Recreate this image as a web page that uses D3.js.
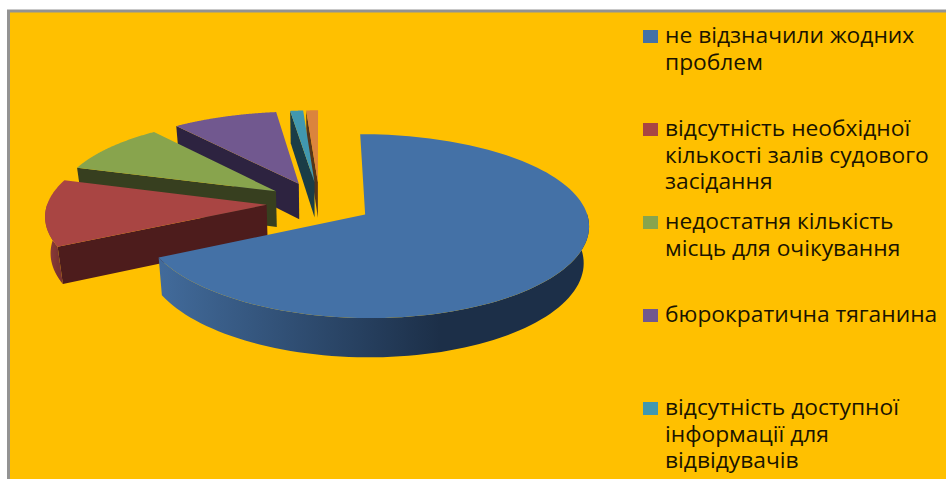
<!DOCTYPE html>
<html>
<head>
<meta charset="utf-8">
<style>
  html, body { margin: 0; padding: 0; background: #fff; overflow: hidden; }
  text { font-family: "Open Sans", sans-serif; }
</style>
<script src="https://cdnjs.cloudflare.com/ajax/libs/d3/7.8.5/d3.min.js"></script>
</head>
<body>
<div id="chart"></div>
<script>
// share of answers (the sixth slice has no visible legend entry)
const sliceValues = [67.7, 11.9, 9.4, 8.9, 1.1, 1.0];
const sliceColors = ['#4471a6', '#a94543', '#88a44d', '#71588f', '#4198af', '#db843d'];
const cutColors = ['#1c2f48', '#4d1c1c', '#373f1f', '#2d2340', '#1a3d47', '#573518'];
const wallLeftColors = ['#426b9b', '#96403d', '#6f863f', '#5c4875', '#357c8f', '#b36c32'];
const wallRightColors = ['#1c2f48', '#7a3331', '#5a6c33', '#4a3a5f', '#2b6575', '#925829'];
const legendLabels = [
  ['не відзначили жодних', 'проблем'],
  ['відсутність необхідної', 'кількості залів судового', 'засідання'],
  ['недостатня кількість', 'місць для очікування'],
  ['бюрократична тяганина'],
  ['відсутність доступної', 'інформації для', 'відвідувачів'],
];

const width = 946;
const height = 479;

const svg = d3.select('#chart').append('svg')
  .attr('width', width)
  .attr('height', height)
  .style('display', 'block');

// frame
svg.append('rect')
  .attr('x', 8.5).attr('y', 11)
  .attr('width', width).attr('height', height)
  .attr('fill', '#ffc000')
  .attr('stroke', '#939393')
  .attr('stroke-width', 3);

// pie geometry: the tilted disc is projected by hand, things get bigger towards the viewer
const center = { x: 319.5, y: 203 };
const radius = { x: 219, y: 89 };
const explode = 0.242;
const perspectiveX = 0.11;
const perspectiveY = 0.13;
const perspectiveDepth = 0.08;
const depth = 36;

const scaleX = d3.scaleLinear().domain([-1, 1]).range([center.x - radius.x, center.x + radius.x]);
const scaleY = d3.scaleLinear().domain([-1, 1]).range([center.y - radius.y, center.y + radius.y]);

function project(u, v, drop) {
  const narrow = drop ? 0.98 : 1;
  return [
    center.x + (scaleX(u) - center.x) * (1 + perspectiveX * v) * narrow,
    center.y + (scaleY(v) - center.y) * (1 + perspectiveY * v) + (drop ? depth * (1 + perspectiveDepth * v) : 0),
  ];
}

const pie = d3.pie().sort(null);
const arcs = pie(sliceValues);
const polygon = d3.line().curve(d3.curveLinearClosed);
const defs = svg.append('defs');

function point(offset, angle, r, drop) {
  return project(offset.u + Math.sin(angle) * r, offset.v - Math.cos(angle) * r, drop);
}

// paint from the back slice to the front one
d3.range(arcs.length - 1, -1, -1).forEach((i) => {
  const arc = arcs[i];
  const mid = (arc.startAngle + arc.endAngle) / 2;
  const offset = { u: Math.sin(mid) * explode, v: -Math.cos(mid) * explode };
  const angles = d3.range(0, 1.0001, 1 / 120)
    .map(t => arc.startAngle + (arc.endAngle - arc.startAngle) * t);
  const g = svg.append('g').attr('class', 'slice');

  // cut faces that look towards the viewer
  [arc.startAngle, arc.endAngle].forEach((angle, k) => {
    const visible = k === 0 ? Math.sin(angle) < 0 : Math.sin(angle) > 0;
    if (!visible) return;
    g.append('path')
      .attr('d', polygon([
        point(offset, angle, 0, false),
        point(offset, angle, 1, false),
        point(offset, angle, 1, true),
        point(offset, angle, 0, true),
      ]))
      .attr('fill', cutColors[i]);
  });

  // outer wall, front half of the disc only
  const front = angles.filter(a => Math.cos(a) < 0.02);
  if (front.length > 1) {
    const top = front.map(a => point(offset, a, 1, false));
    const bottom = front.map(a => point(offset, a, 1, true)).reverse();
    const gradient = defs.append('linearGradient')
      .attr('id', `wall-${i}`)
      .attr('gradientUnits', 'userSpaceOnUse')
      .attr('x1', d3.min(top, d => d[0])).attr('y1', 0)
      .attr('x2', i === 0 ? 440 : d3.max(top, d => d[0])).attr('y2', 0);
    gradient.append('stop').attr('offset', 0).attr('stop-color', wallLeftColors[i]);
    gradient.append('stop').attr('offset', 1).attr('stop-color', wallRightColors[i]);
    g.append('path')
      .attr('d', polygon(top.concat(bottom)))
      .attr('fill', `url(#wall-${i})`);
  }

  // top face
  g.append('path')
    .attr('d', polygon([point(offset, 0, 0, false)].concat(angles.map(a => point(offset, a, 1, false)))))
    .attr('fill', sliceColors[i]);
});

// legend
const legendY = d3.scalePoint()
  .domain(d3.range(legendLabels.length))
  .range([30, 402]);

const legend = svg.selectAll('g.legend')
  .data(legendLabels)
  .enter()
  .append('g')
  .attr('class', 'legend')
  .attr('transform', (d, i) => `translate(643, ${legendY(i)})`);

legend.append('rect')
  .attr('width', 15)
  .attr('height', 13)
  .attr('fill', (d, i) => sliceColors[i]);

// the reference text is a little stretched sideways
legend.selectAll('text')
  .data(d => d)
  .enter()
  .append('text')
  .attr('transform', (d, i) => `translate(22, ${13 + i * 26.5}) scale(1.085, 1)`)
  .attr('font-size', 21)
  .attr('fill', '#1a1400')
  .text(d => d);
</script>
</body>
</html>
